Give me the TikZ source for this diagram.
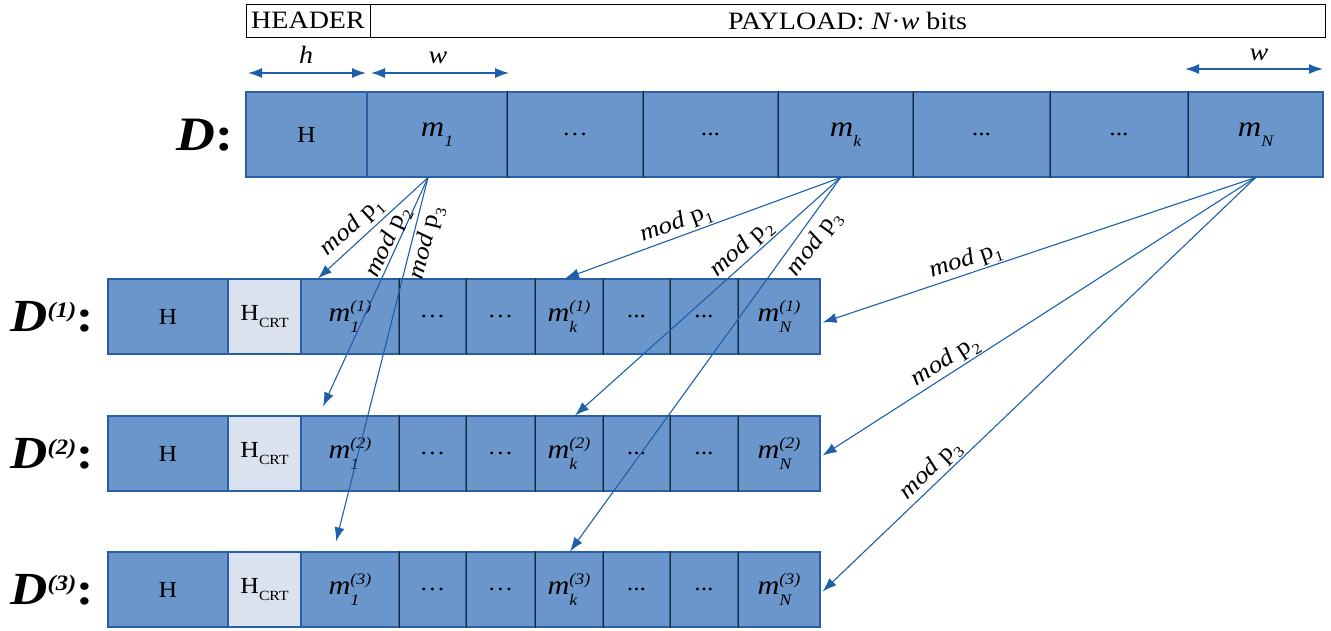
\documentclass[tikz,border=0pt]{standalone}
\usepackage{fontspec}
\setmainfont{Liberation Serif}[FakeStretch=1.12]
\usetikzlibrary{arrows.meta}
\definecolor{cellblue}{RGB}{106,150,203}
\definecolor{edgeblue}{RGB}{40,95,165}
\definecolor{arrowblue}{RGB}{30,95,170}
\definecolor{crtfill}{RGB}{218,226,239}
\newcommand\cellfont{\fontsize{23}{26}\selectfont}
\newcommand\hdrfont{\fontsize{25}{28}\selectfont}
\newcommand\modfont{\fontsize{24}{26}\selectfont}
\newcommand\subfnt{\fontsize{16}{16}\selectfont\itshape}
\newcommand\modtxt[1]{\textit{mod} p\raisebox{-.25em}{\fontsize{15}{15}\selectfont #1}}
\newcommand\mrow[2]{{\fontsize{27}{28}\selectfont\textit{m}\rlap{\raisebox{-.42em}{\subfnt #1}}\raisebox{.36em}{\subfnt (#2)}}}
\newcommand\mtop[1]{{\fontsize{29}{30}\selectfont\textit{m}\raisebox{-.33em}{\subfnt #1}}}
\newcommand\hcrt{H\raisebox{-.3em}{\fontsize{14}{14}\selectfont CRT}}
\newcommand\rowlabel[1]{{\fontsize{46}{50}\selectfont\bfseries\itshape D\raisebox{14pt}{\fontsize{22}{22}\selectfont(#1)}\upshape:}}
\tikzset{
  cell/.style={draw=edgeblue, line width=1.2pt, fill=cellblue, inner sep=0pt, font=\cellfont},
  crtcell/.style={cell, fill=crtfill},
  lbox/.style={draw=black, line width=1pt, fill=white, inner sep=0pt, font=\hdrfont},
  sepline/.style={draw=black!85, line width=1.2pt},
  conn/.style={draw=arrowblue, line width=1.1pt, -{Latex[length=14pt,width=10pt]}},
  dimarrow/.style={draw=arrowblue, line width=1.3pt, {Latex[length=14pt,width=10pt]}-{Latex[length=14pt,width=10pt]}},
  modlab/.style={sloped, font=\modfont, inner sep=1pt},
  dimlab/.style={font=\hdrfont\itshape, inner sep=0pt},
  rowlab/.style={inner sep=0pt},
}
\begin{document}
\begin{tikzpicture}[x=1pt,y=-1pt]
\useasboundingbox (0,0) rectangle (1331,630);
% top boxes
\node[lbox, minimum width=124pt, minimum height=33pt] (hdr) at (308,20.5) {HEADER};
\node[lbox, minimum width=955pt, minimum height=33pt] (pay) at (847.5,20.5) {PAYLOAD: \textit{N}·\textit{w} bits};
% dimension arrows
\coordinate (ha) at (248,73); \coordinate (hb) at (366,73);
\coordinate (wa) at (371,73); \coordinate (wb) at (509,73);
\coordinate (wc) at (1185,69); \coordinate (wd) at (1323,69);
\draw[dimarrow] (ha) -- (hb);
\draw[dimarrow] (wa) -- (wb);
\draw[dimarrow] (wc) -- (wd);
\node[dimlab] (hlab) at (306,55) {h};
\node[dimlab] (wlab) at (438,58) {w};
\node[dimlab] (wlab2) at (1259,55) {w};
% row D
\node[rowlab] (dlab) at (205,135) {{\fontsize{48}{50}\selectfont\bfseries\itshape D\upshape:}};
\node[cell, minimum width=121pt, minimum height=85pt] (dH) at (306.5,134.5) {H};
\node[cell, minimum width=140pt, minimum height=85pt] (dm1) at (437,134.5) {\mtop{1}};
\node[cell, minimum width=136pt, minimum height=85pt] (dd1) at (575,134.5) {\ldots};
\node[cell, minimum width=135pt, minimum height=85pt] (dd2) at (710.5,134.5) {...};
\node[cell, minimum width=135pt, minimum height=85pt] (dmk) at (845.5,134.5) {\mtop{k}};
\node[cell, minimum width=137pt, minimum height=85pt] (dd3) at (981.5,134.5) {...};
\node[cell, minimum width=138pt, minimum height=85pt] (dd4) at (1119,134.5) {...};
\node[cell, minimum width=135pt, minimum height=85pt] (dmN) at (1255.5,134.5) {\mtop{N}};
\foreach \n in {dm1,dd1,dd2,dmk,dd3,dd4}
  \draw[sepline] (\n.north east) -- (\n.south east);
% rows D(1..3)
\foreach \rw/\yc in {1/316.5, 2/453.5, 3/589.5} {
  \node[rowlab] (lab\rw) at (52,\yc) {\rowlabel{\rw}};
  \node[cell, minimum width=120pt, minimum height=75pt] (r\rw H) at (168,\yc) {H};
  \node[crtcell, minimum width=73pt, minimum height=75pt] (r\rw C) at (264.5,\yc) {\hcrt};
  \node[cell, minimum width=98pt, minimum height=75pt] (r\rw m1) at (350,\yc) {\mrow{1}{\rw}};
  \node[cell, minimum width=67pt, minimum height=75pt] (r\rw e1) at (432.5,\yc) {\ldots};
  \node[cell, minimum width=69pt, minimum height=75pt] (r\rw e2) at (500.5,\yc) {\ldots};
  \node[cell, minimum width=68pt, minimum height=75pt] (r\rw mk) at (569,\yc) {\mrow{k}{\rw}};
  \node[cell, minimum width=67pt, minimum height=75pt] (r\rw e3) at (636.5,\yc) {...};
  \node[cell, minimum width=68pt, minimum height=75pt] (r\rw e4) at (704,\yc) {...};
  \node[cell, minimum width=82pt, minimum height=75pt] (r\rw mN) at (779,\yc) {\mrow{N}{\rw}};
  \foreach \n in {m1,e1,e2,mk,e3,e4}
    \draw[sepline] (r\rw\n.north east) -- (r\rw\n.south east);
}
% connectors from m1
\draw[conn] ([xshift=-9pt]dm1.south) -- node[modlab, pos=0.6, above=2pt]{\modtxt{1}} ([xshift=-32pt]r1m1.north);
\draw[conn] ([xshift=-9pt]dm1.south) -- node[modlab, pos=0.3, above=-4pt]{\modtxt{2}} ([xshift=-27pt,yshift=9pt]r2m1.north);
\draw[conn] ([xshift=-9pt]dm1.south) -- node[modlab, pos=0.17, below=2pt]{\modtxt{3}} ([xshift=-14pt,yshift=10pt]r3m1.north);
% connectors from mk
\draw[conn] ([xshift=-5pt]dmk.south) -- node[modlab, pos=0.58, above]{\modtxt{1}} ([xshift=-4pt]r1mk.north);
\draw[conn] ([xshift=-5pt]dmk.south) -- node[modlab, pos=0.34, above]{\modtxt{2}} ([xshift=6pt]r2mk.north);
\draw[conn] ([xshift=-5pt]dmk.south) -- node[modlab, pos=0.15, below=5pt]{\modtxt{3}} ([xshift=1pt]r3mk.north);
% connectors from mN
\draw[conn] (dmN.south) -- node[modlab, pos=0.66, above]{\modtxt{1}} ([xshift=2pt,yshift=-6pt]r1mN.east);
\draw[conn] (dmN.south) -- node[modlab, pos=0.70, above]{\modtxt{2}} ([xshift=2pt,yshift=-2pt]r2mN.east);
\draw[conn] (dmN.south) -- node[modlab, pos=0.73, above]{\modtxt{3}} ([xshift=2pt,yshift=-2pt]r3mN.east);
\end{tikzpicture}
\end{document}
